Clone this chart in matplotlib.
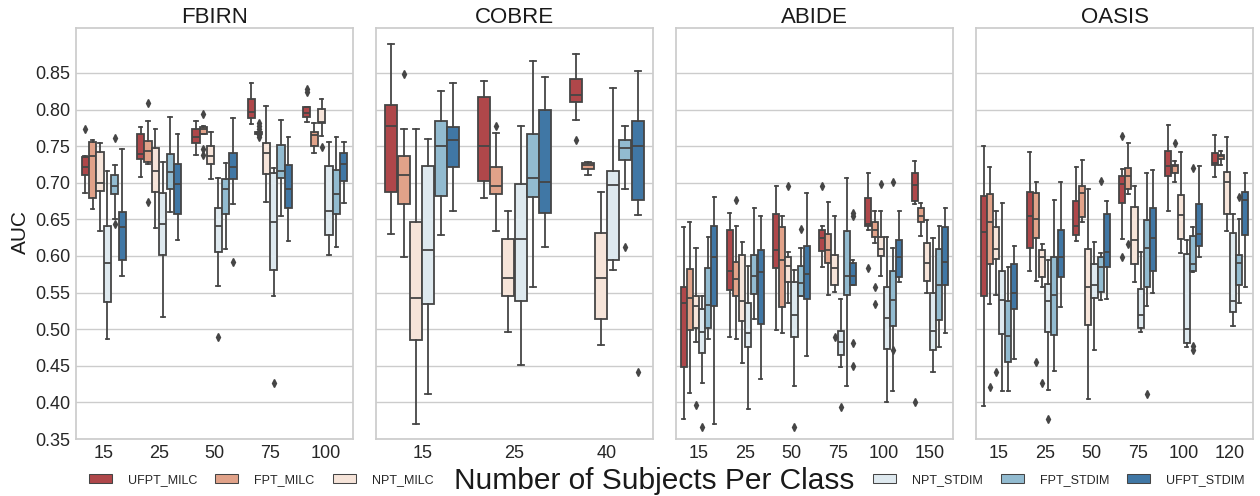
import colorsys

import matplotlib
matplotlib.use("Agg")
import matplotlib.pyplot as plt
import numpy as np
from matplotlib.patches import Rectangle

plt.rcParams["font.family"] = ["Liberation Sans", "DejaVu Sans"]

MODELS = ["UFPT_MILC", "FPT_MILC", "NPT_MILC", "NPT_STDIM", "FPT_STDIM", "UFPT_STDIM"]

# Box summaries per subject count: (whisker low, Q1, median, Q3, whisker high)
FBIRN_SIZES = [15, 25, 50, 75, 100]
FBIRN_UFPT_MILC = [(0.686, 0.711, 0.722, 0.735, 0.737), (0.708, 0.732, 0.739, 0.766, 0.776),
                   (0.738, 0.755, 0.763, 0.774, 0.785), (0.780, 0.788, 0.796, 0.815, 0.836),
                   (0.783, 0.790, 0.795, 0.803, 0.804)]
FBIRN_FPT_MILC = [(0.664, 0.679, 0.736, 0.756, 0.759), (0.726, 0.729, 0.744, 0.757, 0.785),
                  (0.767, 0.767, 0.773, 0.776, 0.778), (0.766, 0.766, 0.768, 0.770, 0.770),
                  (0.740, 0.750, 0.765, 0.770, 0.781)]
FBIRN_NPT_MILC = [(0.634, 0.689, 0.700, 0.742, 0.755), (0.638, 0.688, 0.716, 0.747, 0.774),
                  (0.705, 0.726, 0.736, 0.750, 0.770), (0.674, 0.712, 0.741, 0.755, 0.805),
                  (0.764, 0.781, 0.783, 0.801, 0.814)]
FBIRN_NPT_STDIM = [(0.487, 0.537, 0.591, 0.641, 0.716), (0.516, 0.602, 0.644, 0.686, 0.729),
                   (0.559, 0.606, 0.641, 0.666, 0.706), (0.545, 0.581, 0.646, 0.714, 0.720),
                   (0.601, 0.629, 0.661, 0.723, 0.756)]
FBIRN_FPT_STDIM = [(0.651, 0.685, 0.696, 0.710, 0.724), (0.660, 0.691, 0.715, 0.739, 0.790),
                   (0.609, 0.657, 0.691, 0.705, 0.727), (0.654, 0.706, 0.716, 0.751, 0.786),
                   (0.612, 0.657, 0.685, 0.717, 0.763)]
FBIRN_UFPT_STDIM = [(0.572, 0.594, 0.640, 0.660, 0.746), (0.622, 0.658, 0.698, 0.725, 0.766),
                    (0.671, 0.705, 0.721, 0.740, 0.789), (0.621, 0.665, 0.692, 0.724, 0.763),
                    (0.673, 0.703, 0.725, 0.740, 0.756)]
FBIRN_FLIERS = {
    ("UFPT_MILC", 15): [0.773], ("UFPT_MILC", 100): [0.828, 0.824],
    ("FPT_MILC", 25): [0.809, 0.674], ("FPT_MILC", 50): [0.794, 0.746, 0.738],
    ("FPT_MILC", 75): [0.782, 0.777, 0.774, 0.765, 0.762],
    ("NPT_MILC", 100): [0.749],
    ("NPT_STDIM", 50): [0.489], ("NPT_STDIM", 75): [0.426],
    ("FPT_STDIM", 15): [0.761, 0.643],
    ("UFPT_STDIM", 50): [0.592],
}

COBRE_SIZES = [15, 25, 40]
COBRE_UFPT_MILC = [(0.630, 0.687, 0.777, 0.806, 0.889), (0.679, 0.703, 0.750, 0.817, 0.839),
                   (0.786, 0.811, 0.820, 0.842, 0.876)]
COBRE_FPT_MILC = [(0.598, 0.671, 0.711, 0.737, 0.773), (0.634, 0.685, 0.695, 0.722, 0.768),
                  (0.711, 0.719, 0.724, 0.727, 0.729)]
COBRE_NPT_MILC = [(0.371, 0.485, 0.543, 0.647, 0.773), (0.496, 0.545, 0.570, 0.623, 0.661),
                  (0.479, 0.514, 0.570, 0.631, 0.688)]
COBRE_NPT_STDIM = [(0.411, 0.535, 0.608, 0.723, 0.760), (0.451, 0.538, 0.623, 0.699, 0.777),
                   (0.581, 0.595, 0.697, 0.716, 0.830)]
COBRE_FPT_STDIM = [(0.629, 0.682, 0.750, 0.784, 0.826), (0.558, 0.680, 0.706, 0.766, 0.866),
                   (0.692, 0.731, 0.748, 0.758, 0.777)]
COBRE_UFPT_STDIM = [(0.661, 0.721, 0.759, 0.776, 0.836), (0.612, 0.659, 0.701, 0.799, 0.845),
                    (0.656, 0.676, 0.750, 0.784, 0.853)]
COBRE_FLIERS = {
    ("UFPT_MILC", 40): [0.759],
    ("FPT_MILC", 15): [0.849], ("FPT_MILC", 25): [0.777],
    ("FPT_STDIM", 40): [0.612],
    ("UFPT_STDIM", 40): [0.442],
}

ABIDE_SIZES = [15, 25, 50, 75, 100, 150]
ABIDE_UFPT_MILC = [(0.378, 0.448, 0.536, 0.557, 0.640), (0.489, 0.554, 0.579, 0.635, 0.659),
                   (0.499, 0.583, 0.608, 0.657, 0.696), (0.585, 0.607, 0.624, 0.635, 0.641),
                   (0.635, 0.641, 0.644, 0.679, 0.713), (0.671, 0.675, 0.697, 0.714, 0.730)]
ABIDE_FPT_MILC = [(0.413, 0.499, 0.542, 0.582, 0.647), (0.486, 0.545, 0.568, 0.592, 0.641),
                  (0.495, 0.530, 0.595, 0.639, 0.654), (0.547, 0.590, 0.608, 0.630, 0.674),
                  (0.618, 0.626, 0.635, 0.647, 0.661), (0.627, 0.647, 0.654, 0.665, 0.673)]
ABIDE_NPT_MILC = [(0.483, 0.501, 0.532, 0.545, 0.611), (0.454, 0.511, 0.538, 0.602, 0.619),
                  (0.536, 0.565, 0.586, 0.599, 0.605), (0.551, 0.560, 0.583, 0.602, 0.655),
                  (0.573, 0.600, 0.609, 0.626, 0.662), (0.550, 0.566, 0.591, 0.618, 0.649)]
ABIDE_NPT_STDIM = [(0.426, 0.467, 0.496, 0.527, 0.546), (0.391, 0.476, 0.495, 0.536, 0.586),
                   (0.423, 0.489, 0.520, 0.565, 0.581), (0.449, 0.465, 0.482, 0.498, 0.541),
                   (0.400, 0.473, 0.515, 0.558, 0.626), (0.442, 0.472, 0.497, 0.550, 0.624)]
ABIDE_FPT_STDIM = [(0.486, 0.501, 0.533, 0.583, 0.626), (0.514, 0.548, 0.573, 0.601, 0.665),
                   (0.545, 0.545, 0.563, 0.586, 0.611), (0.423, 0.547, 0.573, 0.634, 0.706),
                   (0.416, 0.504, 0.540, 0.579, 0.611), (0.475, 0.512, 0.560, 0.610, 0.641)]
ABIDE_UFPT_STDIM = [(0.371, 0.532, 0.599, 0.641, 0.680), (0.432, 0.507, 0.578, 0.608, 0.654),
                    (0.463, 0.541, 0.576, 0.614, 0.686), (0.561, 0.561, 0.573, 0.591, 0.595),
                    (0.564, 0.571, 0.598, 0.622, 0.662), (0.495, 0.561, 0.592, 0.639, 0.665)]
ABIDE_FLIERS = {
    ("UFPT_MILC", 75): [0.696], ("UFPT_MILC", 100): [0.583], ("UFPT_MILC", 150): [0.400],
    ("FPT_MILC", 25): [0.677], ("FPT_MILC", 100): [0.557, 0.535],
    ("NPT_MILC", 15): [0.396], ("NPT_MILC", 50): [0.695], ("NPT_MILC", 75): [0.489],
    ("NPT_MILC", 100): [0.699],
    ("NPT_STDIM", 15): [0.366], ("NPT_STDIM", 50): [0.366], ("NPT_STDIM", 75): [0.394],
    ("FPT_STDIM", 50): [0.637], ("FPT_STDIM", 100): [0.701, 0.472],
    ("UFPT_STDIM", 75): [0.659, 0.654, 0.481, 0.450],
}

OASIS_SIZES = [15, 25, 50, 75, 100, 120]
OASIS_UFPT_MILC = [(0.395, 0.546, 0.633, 0.682, 0.750), (0.579, 0.611, 0.655, 0.688, 0.742),
                   (0.620, 0.629, 0.641, 0.675, 0.722), (0.623, 0.673, 0.699, 0.709, 0.719),
                   (0.661, 0.709, 0.723, 0.744, 0.779), (0.708, 0.724, 0.727, 0.741, 0.765)]
OASIS_FPT_MILC = [(0.534, 0.589, 0.647, 0.685, 0.721), (0.566, 0.624, 0.650, 0.686, 0.701),
                  (0.646, 0.653, 0.686, 0.695, 0.731), (0.684, 0.691, 0.709, 0.720, 0.755),
                  (0.701, 0.713, 0.723, 0.724, 0.730), (0.724, 0.732, 0.736, 0.738, 0.744)]
OASIS_NPT_MILC = [(0.547, 0.596, 0.609, 0.639, 0.662), (0.557, 0.571, 0.599, 0.608, 0.616),
                  (0.405, 0.506, 0.558, 0.610, 0.692), (0.564, 0.589, 0.622, 0.667, 0.696),
                  (0.604, 0.623, 0.656, 0.683, 0.742), (0.634, 0.658, 0.701, 0.715, 0.762)]
OASIS_NPT_STDIM = [(0.415, 0.494, 0.540, 0.580, 0.672), (0.417, 0.496, 0.538, 0.562, 0.595),
                   (0.471, 0.542, 0.561, 0.589, 0.619), (0.496, 0.501, 0.519, 0.555, 0.605),
                   (0.475, 0.481, 0.500, 0.603, 0.622), (0.504, 0.523, 0.539, 0.632, 0.657)]
OASIS_FPT_STDIM = [(0.416, 0.455, 0.491, 0.539, 0.585), (0.443, 0.492, 0.547, 0.599, 0.676),
                   (0.540, 0.551, 0.585, 0.599, 0.604), (0.532, 0.557, 0.611, 0.649, 0.714),
                   (0.578, 0.579, 0.589, 0.627, 0.639), (0.536, 0.560, 0.591, 0.601, 0.650)]
OASIS_UFPT_STDIM = [(0.459, 0.528, 0.550, 0.589, 0.613), (0.530, 0.571, 0.599, 0.636, 0.701),
                    (0.541, 0.585, 0.606, 0.658, 0.675), (0.549, 0.580, 0.624, 0.666, 0.718),
                    (0.598, 0.614, 0.630, 0.671, 0.723), (0.557, 0.628, 0.677, 0.688, 0.714)]
OASIS_FLIERS = {
    ("UFPT_MILC", 75): [0.764, 0.598],
    ("FPT_MILC", 15): [0.421], ("FPT_MILC", 25): [0.455], ("FPT_MILC", 75): [0.617],
    ("FPT_MILC", 100): [0.754],
    ("NPT_MILC", 15): [0.442], ("NPT_MILC", 25): [0.426],
    ("NPT_STDIM", 25): [0.378],
    ("FPT_STDIM", 50): [0.702], ("FPT_STDIM", 75): [0.411],
    ("FPT_STDIM", 100): [0.720, 0.477, 0.472], ("FPT_STDIM", 120): [0.680],
}

DATASETS = [
    ("FBIRN", FBIRN_SIZES, [FBIRN_UFPT_MILC, FBIRN_FPT_MILC, FBIRN_NPT_MILC,
                            FBIRN_NPT_STDIM, FBIRN_FPT_STDIM, FBIRN_UFPT_STDIM], FBIRN_FLIERS),
    ("COBRE", COBRE_SIZES, [COBRE_UFPT_MILC, COBRE_FPT_MILC, COBRE_NPT_MILC,
                            COBRE_NPT_STDIM, COBRE_FPT_STDIM, COBRE_UFPT_STDIM], COBRE_FLIERS),
    ("ABIDE", ABIDE_SIZES, [ABIDE_UFPT_MILC, ABIDE_FPT_MILC, ABIDE_NPT_MILC,
                            ABIDE_NPT_STDIM, ABIDE_FPT_STDIM, ABIDE_UFPT_STDIM], ABIDE_FLIERS),
    ("OASIS", OASIS_SIZES, [OASIS_UFPT_MILC, OASIS_FPT_MILC, OASIS_NPT_MILC,
                            OASIS_NPT_STDIM, OASIS_FPT_STDIM, OASIS_UFPT_STDIM], OASIS_FLIERS),
]

# Diverging red/blue palette, slightly desaturated for box fills
base = plt.get_cmap("RdBu")(np.linspace(0, 1, len(MODELS) + 2)[1:-1])[:, :3]
colors = []
lights = []
for c in base:
    h, l, s = colorsys.rgb_to_hls(*c)
    colors.append(colorsys.hls_to_rgb(h, l, s * 0.75))
    lights.append(l)
lum = min(lights) * 0.6
gray = (lum, lum, lum)

W, H = 1260, 496
fig = plt.figure(figsize=(W / 100, H / 100), dpi=100)
fig.patch.set_facecolor("white")

ax_left_px = [76, 376, 676, 976]
ax_w_px = 277
ax_top_px, ax_bot_px = 28.3, 439.0

group_width = 0.8
n_hue = len(MODELS)
each = group_width / n_hue
offsets = -group_width / 2 + each / 2 + each * np.arange(n_hue)
lw = 1.3

for k, (name, sizes, series, fliers) in enumerate(DATASETS):
    ax = fig.add_axes([ax_left_px[k] / W, 1 - ax_bot_px / H,
                       ax_w_px / W, (ax_bot_px - ax_top_px) / H])
    ax.set_facecolor("white")
    for j, model in enumerate(MODELS):
        stats = []
        for g, size in enumerate(sizes):
            lo, q1, med, q3, hi = series[j][g]
            stats.append(dict(whislo=lo, q1=q1, med=med, q3=q3, whishi=hi,
                              fliers=fliers.get((model, size), [])))
        ax.bxp(stats, positions=np.arange(len(sizes)) + offsets[j],
               widths=each * 0.98, patch_artist=True, manage_ticks=False,
               boxprops=dict(facecolor=colors[j], edgecolor=gray, linewidth=lw),
               medianprops=dict(color=gray, linewidth=lw),
               whiskerprops=dict(color=gray, linewidth=lw),
               capprops=dict(color=gray, linewidth=lw),
               flierprops=dict(marker="d", markerfacecolor=gray, markeredgecolor=gray,
                               markersize=3.8, linestyle="none"))
    ax.set_xlim(-0.5, len(sizes) - 0.5)
    ax.set_ylim(0.35, 0.911)
    ax.set_xticks(np.arange(len(sizes)))
    ax.set_xticklabels([str(s) for s in sizes])
    ax.set_yticks(np.round(np.arange(0.35, 0.851, 0.05), 2))
    ax.set_yticklabels([f"{v:.2f}" for v in np.arange(0.35, 0.851, 0.05)])
    ax.yaxis.grid(True, color="0.8", linewidth=1)
    ax.xaxis.grid(False)
    ax.set_axisbelow(True)
    for sp in ax.spines.values():
        sp.set_color("0.8")
        sp.set_linewidth(1.25)
    ax.tick_params(length=0, labelsize=13, labelcolor="0.15", pad=4)
    if k > 0:
        ax.tick_params(labelleft=False)
    ax.set_title(name, fontsize=16, color="0.1", pad=3)

fig.text(20.5 / W, 1 - 231.5 / H, "AUC", rotation=90, fontsize=15,
         ha="center", va="center", color="0.1")
fig.text(653.7 / W, 1 - 489 / H, "Number of Subjects Per Class", fontsize=21.5,
         ha="center", va="baseline", color="0.1")

handles = [Rectangle((0, 0), 0, 0, facecolor=c, edgecolor=gray, linewidth=0.75)
           for c in colors]
leg_kw = dict(ncol=3, frameon=False, fontsize=9, handlelength=1.84, handleheight=0.64,
              handletextpad=1.28, columnspacing=1.44, borderpad=0, borderaxespad=0,
              loc="center left", labelcolor="0.15")
fig.legend(handles[:3], MODELS[:3], bbox_to_anchor=(89 / W, 1 - 480 / H), **leg_kw)
fig.legend(handles[3:], MODELS[3:], bbox_to_anchor=(873 / W, 1 - 480 / H), **leg_kw)

fig.savefig("out.png", dpi=100, facecolor="white")
